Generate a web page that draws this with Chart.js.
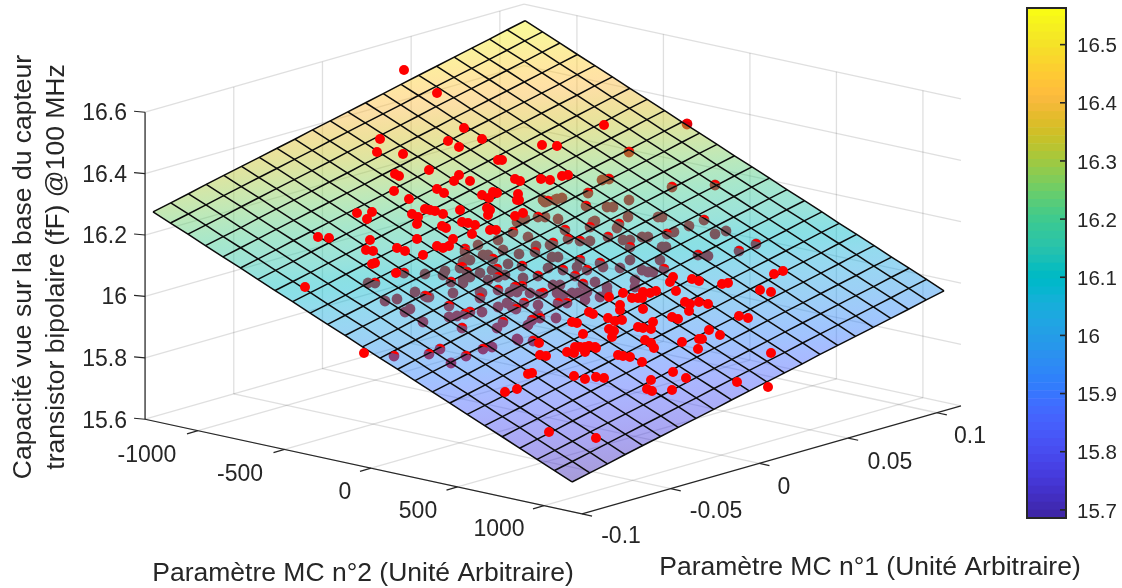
<!DOCTYPE html>
<html><head><meta charset="utf-8">
<style>html,body{margin:0;padding:0;background:#fff;overflow:hidden}canvas{position:absolute;left:0;top:0}</style>
<script src="https://cdn.jsdelivr.net/npm/chart.js@4"></script></head>
<body><canvas id="c" width="1122" height="588"></canvas><canvas id="cb" width="1122" height="588"></canvas>
<script>
const mc1Ticks=[-0.1,-0.05,0,0.05,0.1], mc2Ticks=[-1000,-500,0,500,1000], capTicks=[15.6,15.8,16,16.2,16.4,16.6];
const colorbarTicks=[15.7,15.8,15.9,16,16.1,16.2,16.3,16.4,16.5];
const mc1Lim=[-0.1,0.1136], mc2Lim=[-1306,1220], capLim=[15.6,16.6], colorLim=[15.686,16.563];
const mc1Grid=[-0.0962,-0.0862,-0.0762,-0.0662,-0.0563,-0.0463,-0.0363,-0.0263,-0.0163,-0.0063,0.0037,0.0136,0.0236,0.0336,0.0436,0.0536,0.0636,0.0736,0.0835,0.0935,0.1035,0.1135];
const mc2Grid=[-1299,-1198,-1097,-996,-895,-794,-693,-593,-492,-391,-290,-189,-88,13,114,215,316,417,517,618,719,820,921,1022,1123];
const capGrid=[
[16.270,16.246,16.222,16.197,16.173,16.149,16.124,16.100,16.076,16.051,16.027,16.003,15.978,15.954,15.930,15.905,15.881,15.857,15.832,15.808,15.784,15.759,15.735,15.711,15.686],
[16.283,16.259,16.235,16.210,16.186,16.162,16.137,16.113,16.089,16.064,16.040,16.016,15.991,15.967,15.943,15.918,15.894,15.870,15.845,15.821,15.797,15.772,15.748,15.724,15.699],
[16.296,16.272,16.248,16.223,16.199,16.175,16.150,16.126,16.102,16.077,16.053,16.029,16.004,15.980,15.956,15.931,15.907,15.883,15.858,15.834,15.810,15.785,15.761,15.737,15.712],
[16.310,16.286,16.262,16.237,16.213,16.189,16.164,16.140,16.116,16.091,16.067,16.043,16.018,15.994,15.970,15.945,15.921,15.897,15.872,15.848,15.824,15.799,15.775,15.751,15.726],
[16.323,16.299,16.275,16.250,16.226,16.202,16.177,16.153,16.129,16.104,16.080,16.056,16.031,16.007,15.983,15.958,15.934,15.910,15.885,15.861,15.837,15.812,15.788,15.764,15.739],
[16.336,16.312,16.288,16.263,16.239,16.215,16.190,16.166,16.142,16.117,16.093,16.069,16.044,16.020,15.996,15.971,15.947,15.923,15.898,15.874,15.850,15.825,15.801,15.777,15.752],
[16.349,16.325,16.301,16.276,16.252,16.228,16.203,16.179,16.155,16.130,16.106,16.082,16.057,16.033,16.009,15.984,15.960,15.936,15.911,15.887,15.863,15.838,15.814,15.790,15.765],
[16.362,16.338,16.314,16.289,16.265,16.241,16.216,16.192,16.168,16.143,16.119,16.095,16.070,16.046,16.022,15.997,15.973,15.949,15.924,15.900,15.876,15.851,15.827,15.803,15.778],
[16.375,16.351,16.327,16.302,16.278,16.254,16.229,16.205,16.181,16.156,16.132,16.108,16.083,16.059,16.035,16.010,15.986,15.962,15.937,15.913,15.889,15.864,15.840,15.816,15.791],
[16.389,16.365,16.341,16.316,16.292,16.268,16.243,16.219,16.195,16.170,16.146,16.122,16.097,16.073,16.049,16.024,16.000,15.976,15.951,15.927,15.903,15.878,15.854,15.830,15.805],
[16.402,16.378,16.354,16.329,16.305,16.281,16.256,16.232,16.208,16.183,16.159,16.135,16.110,16.086,16.062,16.037,16.013,15.989,15.964,15.940,15.916,15.891,15.867,15.843,15.818],
[16.415,16.391,16.367,16.342,16.318,16.294,16.269,16.245,16.221,16.196,16.172,16.148,16.123,16.099,16.075,16.050,16.026,16.002,15.977,15.953,15.929,15.904,15.880,15.856,15.831],
[16.428,16.404,16.380,16.355,16.331,16.307,16.282,16.258,16.234,16.209,16.185,16.161,16.136,16.112,16.088,16.063,16.039,16.015,15.990,15.966,15.942,15.917,15.893,15.869,15.844],
[16.441,16.417,16.393,16.368,16.344,16.320,16.295,16.271,16.247,16.222,16.198,16.174,16.149,16.125,16.101,16.076,16.052,16.028,16.003,15.979,15.955,15.930,15.906,15.882,15.857],
[16.455,16.431,16.407,16.382,16.358,16.334,16.309,16.285,16.261,16.236,16.212,16.188,16.163,16.139,16.115,16.090,16.066,16.042,16.017,15.993,15.969,15.944,15.920,15.896,15.871],
[16.468,16.444,16.420,16.395,16.371,16.347,16.322,16.298,16.274,16.249,16.225,16.201,16.176,16.152,16.128,16.103,16.079,16.055,16.030,16.006,15.982,15.957,15.933,15.909,15.884],
[16.481,16.457,16.433,16.408,16.384,16.360,16.335,16.311,16.287,16.262,16.238,16.214,16.189,16.165,16.141,16.116,16.092,16.068,16.043,16.019,15.995,15.970,15.946,15.922,15.897],
[16.494,16.470,16.446,16.421,16.397,16.373,16.348,16.324,16.300,16.275,16.251,16.227,16.202,16.178,16.154,16.129,16.105,16.081,16.056,16.032,16.008,15.983,15.959,15.935,15.910],
[16.507,16.483,16.459,16.434,16.410,16.386,16.361,16.337,16.313,16.288,16.264,16.240,16.215,16.191,16.167,16.142,16.118,16.094,16.069,16.045,16.021,15.996,15.972,15.948,15.923],
[16.520,16.496,16.472,16.447,16.423,16.399,16.374,16.350,16.326,16.301,16.277,16.253,16.228,16.204,16.180,16.155,16.131,16.107,16.082,16.058,16.034,16.009,15.985,15.961,15.936],
[16.534,16.510,16.486,16.461,16.437,16.413,16.388,16.364,16.340,16.315,16.291,16.267,16.242,16.218,16.194,16.169,16.145,16.121,16.096,16.072,16.048,16.023,15.999,15.975,15.950],
[16.547,16.523,16.499,16.474,16.450,16.426,16.401,16.377,16.353,16.328,16.304,16.280,16.255,16.231,16.207,16.182,16.158,16.134,16.109,16.085,16.061,16.036,16.012,15.988,15.963]];
const parula=[[.2422,.1504,.6603],[.2504,.1650,.7076],[.2578,.1818,.7511],[.2647,.1978,.7952],[.2706,.2147,.8364],[.2751,.2342,.8710],[.2783,.2559,.8991],[.2803,.2782,.9221],[.2813,.3006,.9414],[.2810,.3228,.9579],[.2795,.3447,.9717],[.2760,.3667,.9829],[.2699,.3892,.9906],[.2602,.4123,.9952],[.2440,.4358,.9988],[.2206,.4603,.9973],[.1963,.4847,.9892],[.1834,.5074,.9798],[.1786,.5289,.9682],[.1764,.5499,.9520],[.1687,.5703,.9359],[.1540,.5902,.9218],[.1460,.6091,.9079],[.1380,.6276,.8973],[.1248,.6459,.8883],[.1113,.6635,.8763],[.0952,.6798,.8598],[.0689,.6948,.8394],[.0297,.7082,.8163],[.0036,.7203,.7917],[.0067,.7312,.7660],[.0433,.7411,.7394],[.0964,.7500,.7120],[.1408,.7584,.6842],[.1717,.7670,.6554],[.1938,.7758,.6251],[.2161,.7843,.5923],[.2470,.7918,.5567],[.2906,.7973,.5188],[.3406,.8008,.4789],[.3909,.8029,.4354],[.4456,.8024,.3909],[.5044,.7993,.3480],[.5616,.7942,.3045],[.6174,.7876,.2612],[.6720,.7793,.2227],[.7242,.7698,.1910],[.7738,.7598,.1646],[.8203,.7498,.1535],[.8634,.7406,.1596],[.9035,.7330,.1774],[.9393,.7288,.2100],[.9728,.7298,.2394],[.9956,.7434,.2371],[.9970,.7659,.2199],[.9952,.7893,.2028],[.9892,.8136,.1885],[.9786,.8386,.1766],[.9676,.8639,.1643],[.9610,.8890,.1537],[.9597,.9135,.1423],[.9628,.9373,.1265],[.9691,.9606,.1064],[.9769,.9839,.0805]];
const rgb=c=>`rgb(${Math.round(c[0]*255)},${Math.round(c[1]*255)},${Math.round(c[2]*255)})`;
const abovePts=[[404,70],[437,93],[464,128],[380,139],[448,141],[459,147],[482,139],[377,152],[403,154],[429,170],[395,174],[399,176],[459,175],[454,181],[470,181],[394,191],[437,189],[444,193],[409,199],[482,195],[604,125],[542,145],[557,146],[498,160],[502,160],[515,179],[520,181],[541,179],[550,180],[562,176],[568,175],[493,192],[497,193],[489,198],[518,194],[517,200],[519,200],[487,208],[490,210],[488,215],[523,213],[515,216],[357,213],[372,212],[367,219],[412,214],[418,217],[417,224],[425,209],[430,210],[435,211],[443,214],[460,210],[442,226],[446,228],[462,222],[468,223],[475,225],[472,234],[490,230],[496,230],[318,237],[329,238],[370,240],[366,250],[373,251],[417,239],[397,248],[405,251],[437,246],[443,248],[449,246],[453,239],[423,255],[372,264],[375,263],[396,273],[305,287],[364,353],[783,271],[774,274],[673,277],[670,282],[692,279],[699,281],[722,284],[728,283],[676,291],[760,290],[771,292],[643,292],[650,293],[656,291],[642,298],[685,302],[690,304],[699,302],[708,304],[689,311],[643,309],[739,316],[748,318],[672,317],[678,319],[653,322],[643,328],[651,329],[709,330],[720,335],[699,339],[702,339],[645,340],[651,343],[682,342],[654,348],[698,349],[771,353],[567,352],[574,353],[580,347],[585,347],[589,346],[595,347],[585,352],[540,355],[546,356],[539,343],[618,355],[623,356],[630,357],[642,362],[528,374],[532,373],[574,376],[585,379],[596,377],[604,378],[673,372],[651,380],[686,378],[737,382],[768,387],[647,389],[652,391],[672,390],[505,392],[517,389],[549,432],[596,438],[609,297],[623,293],[632,298],[638,298],[620,305],[620,310],[589,312],[593,314],[608,318],[615,321],[622,320],[572,322],[577,323],[609,329],[614,331],[612,337],[583,334],[638,327],[575,347],[596,348]];
const straddlingPts=[[687,124],[629,152],[609,179],[672,187],[715,185],[588,193],[548,201],[586,206],[538,217],[704,220],[667,234],[698,255],[739,251],[756,244],[664,269],[404,273],[375,283],[460,268],[465,252],[451,282],[427,297],[513,232],[619,224],[590,227],[565,230],[608,237],[568,239],[580,241],[553,243],[535,252],[630,247],[465,249],[493,259],[580,260],[522,266],[563,270],[497,269],[600,263],[587,270],[462,267],[467,272],[538,276],[498,277],[575,276],[583,284],[522,286],[515,287],[498,290],[543,293],[480,298],[470,312],[465,314],[516,309],[524,303],[540,294],[558,303],[567,303],[540,318],[532,320],[503,322],[462,328],[533,341],[483,349],[466,356],[394,356],[429,354],[440,349],[425,296],[449,306]];
const belowPts=[[602,180],[543,200],[557,199],[562,198],[629,200],[607,207],[613,207],[525,219],[545,217],[558,219],[595,221],[628,217],[658,217],[662,217],[689,226],[726,231],[715,234],[642,237],[648,237],[674,232],[662,247],[666,247],[708,256],[660,260],[642,270],[648,272],[653,272],[368,283],[425,274],[445,271],[443,275],[463,262],[463,280],[415,292],[453,293],[385,301],[397,299],[405,312],[410,309],[423,322],[429,297],[449,317],[457,316],[451,363],[517,339],[492,347],[480,292],[517,292],[482,312],[498,307],[507,303],[512,307],[538,305],[585,300],[557,293],[578,293],[607,292],[600,297],[556,318],[528,325],[497,328],[538,315],[545,202],[555,200],[593,222],[517,222],[617,228],[528,237],[498,240],[478,245],[623,240],[630,240],[590,241],[536,246],[550,245],[503,250],[483,255],[488,255],[519,254],[552,257],[558,257],[630,260],[470,260],[508,264],[577,267],[548,268],[603,267],[620,268],[492,270],[480,273],[523,278],[470,277],[463,283],[635,280],[488,280],[505,275],[595,282],[607,287],[635,287],[553,285],[560,285],[482,293],[510,292],[563,295],[587,292],[530,293],[572,293],[518,340]];

const view=(m1,m2,z)=>[548.4+1774*m1+0.173*m2, 417.6-506*m1+0.0375*m2-307*(z-15.6)];
const INK='#262626', GRID='rgba(38,38,38,0.15)', FONT='"Liberation Sans", Arial, sans-serif';
const sliver=(()=>{const r=5,c=document.createElement('canvas');c.width=c.height=12;const g=c.getContext('2d');g.translate(6,6);g.rotate(0.25);g.fillStyle='#f00';g.beginPath();g.arc(0,0,r,Math.PI+0.5,-0.5);g.closePath();g.fill();return c;})();
const toXY=a=>a.map(p=>({x:p[0],y:p[1]}));
const wallPlugin={id:'walls',beforeDatasetsDraw(ch){
  const {ctx,scales:{x,y}}=ch; const S=p=>[x.getPixelForValue(p[0]),y.getPixelForValue(p[1])];
  const line=(a,b,col,w)=>{ctx.strokeStyle=col;ctx.lineWidth=w;ctx.beginPath();ctx.moveTo(...S(a));ctx.lineTo(...S(b));ctx.stroke();};
  const [a0,a1]=mc1Lim,[b0,b1]=mc2Lim,[z0,z1]=capLim;
  for(const t of mc1Ticks){line(view(t,b0,z0),view(t,b1,z0),GRID,1.3);line(view(t,b0,z0),view(t,b0,z1),GRID,1.3);}
  for(const t of mc2Ticks){line(view(a0,t,z0),view(a1,t,z0),GRID,1.3);line(view(a1,t,z0),view(a1,t,z1),GRID,1.3);}
  for(const t of capTicks){line(view(a0,b0,t),view(a1,b0,t),GRID,1.3);line(view(a1,b0,t),view(a1,b1,t),GRID,1.3);}
  line(view(a0,b0,z0),view(a0,b1,z0),INK,1.2);line(view(a0,b1,z0),view(a1,b1,z0),INK,1.2);line(view(a0,b0,z0),view(a0,b0,z1),INK,1.2);
  for(const t of capTicks){const p=S(view(a0,b0,t));ctx.strokeStyle=INK;ctx.lineWidth=1.2;ctx.beginPath();ctx.moveTo(...p);ctx.lineTo(p[0]-11,p[1]-1);ctx.stroke();}
  for(const t of mc2Ticks){const p=S(view(a0,t,z0));ctx.beginPath();ctx.moveTo(...p);ctx.lineTo(p[0]-11,p[1]+3.2);ctx.stroke();}
  for(const t of mc1Ticks){const p=S(view(t,b1,z0));ctx.beginPath();ctx.moveTo(...p);ctx.lineTo(p[0]+10,p[1]+2.2);ctx.stroke();}
  ctx.fillStyle=INK;ctx.textBaseline='middle';ctx.font='23px '+FONT;
  ctx.textAlign='right';
  capTicks.forEach((t,i)=>ctx.fillText(String(t),127,[422,360,298,237,176,114][i]));
  ctx.textAlign='center';
  mc2Ticks.forEach((t,i)=>{ctx.fillText(String(t),[147,240,345,418,499][i],[456,475,493,512,530][i]);});
  mc1Ticks.forEach((t,i)=>{ctx.fillText(String(t),[621,716,784,890,970][i],[537,512,488,463,437][i]);});
  ctx.font='26.5px '+FONT;
  ctx.fillText('Paramètre MC n°2 (Unité Arbitraire)',363,574);
  ctx.fillText('Paramètre MC n°1 (Unité Arbitraire)',870,568);
  ctx.save();ctx.translate(24,267);ctx.rotate(-Math.PI/2);ctx.fillText('Capacité vue sur la base du capteur',0,0);ctx.restore();
  ctx.save();ctx.translate(57,267);ctx.rotate(-Math.PI/2);ctx.fillText('transistor bipolaire (fF) @100 MHz',0,0);ctx.restore();
}};
const surfacePlugin={id:'surface',afterDatasetDraw(ch,args){
  if(ch.data.datasets[args.index].label!=='below')return;
  const {ctx,scales:{x,y}}=ch; const S=(i,j)=>{const p=view(mc1Grid[i],mc2Grid[j],capGrid[i][j]);return [x.getPixelForValue(p[0]),y.getPixelForValue(p[1])];};
  const I=mc1Grid.length-1,J=mc2Grid.length-1;
  const A=S(0,0),B=S(I,0),C=S(0,J),zA=capGrid[0][0],zB=capGrid[I][0],zC=capGrid[0][J];
  const ux=B[0]-A[0],uy=B[1]-A[1],vx=C[0]-A[0],vy=C[1]-A[1],dz1=zB-zA,dz2=zC-zA,det=ux*vy-uy*vx;
  const gx=(dz1*vy-dz2*uy)/det,gy=(ux*dz2-vx*dz1)/det,g2=gx*gx+gy*gy;
  const pt=z=>[A[0]+gx*(z-zA)/g2,A[1]+gy*(z-zA)/g2];
  const gr=ctx.createLinearGradient(...pt(colorLim[0]),...pt(colorLim[1]));
  parula.forEach((c,k)=>gr.addColorStop(k/(parula.length-1),rgb(c)));
  ctx.save();ctx.globalAlpha=0.46;ctx.fillStyle=gr;ctx.beginPath();
  const pts=[S(0,0),S(I,0),S(I,J),S(0,J)];ctx.moveTo(...pts[0]);pts.slice(1).forEach(p=>ctx.lineTo(...p));ctx.closePath();ctx.fill();ctx.restore();
  ctx.strokeStyle='#0c0c0c';ctx.lineWidth=1.5;
  for(let i=0;i<=I;i++){ctx.beginPath();for(let j=0;j<=J;j++){const p=S(i,j);j?ctx.lineTo(...p):ctx.moveTo(...p);}ctx.stroke();}
  for(let j=0;j<=J;j++){ctx.beginPath();for(let i=0;i<=I;i++){const p=S(i,j);i?ctx.lineTo(...p):ctx.moveTo(...p);}ctx.stroke();}
}};
new Chart(document.getElementById('c'),{type:'scatter',plugins:[wallPlugin,surfacePlugin],
 data:{datasets:[
  {label:'above',data:toXY(abovePts),order:0,pointBackgroundColor:'#f00',pointBorderWidth:0,pointRadius:5},
  {label:'straddling',data:toXY(straddlingPts),order:1,pointStyle:sliver,pointRadius:5},
  {label:'below',data:toXY(belowPts.concat(straddlingPts)),order:2,pointBackgroundColor:'#d8000c',pointBorderWidth:0,pointRadius:5.4}
 ]},
 options:{responsive:false,animation:false,devicePixelRatio:1,layout:{padding:0,autoPadding:false},
  plugins:{legend:{display:false},tooltip:{enabled:false}},
  scales:{x:{type:'linear',display:false,min:0,max:1122},y:{type:'linear',display:false,min:0,max:588,reverse:true}}}});
const cbDatasets=parula.map((c,k)=>({data:[[colorLim[0]+(colorLim[1]-colorLim[0])*k/64,colorLim[0]+(colorLim[1]-colorLim[0])*(k+1)/64]],backgroundColor:rgb(c),barPercentage:1,categoryPercentage:1,grouped:false,borderWidth:0}));
new Chart(document.getElementById('cb'),{type:'bar',
 plugins:[{id:'frame',afterDraw(ch){const {ctx,chartArea:a,scales:{y}}=ch;ctx.strokeStyle=INK;ctx.lineWidth=2;ctx.strokeRect(a.left,a.top,a.right-a.left,a.bottom-a.top);
   ctx.lineWidth=1.6;for(const t of colorbarTicks){const p=y.getPixelForValue(t);ctx.beginPath();ctx.moveTo(a.right-6,p);ctx.lineTo(a.right,p);ctx.stroke();}}}],
 data:{labels:['c'],datasets:cbDatasets},
 options:{responsive:false,animation:false,devicePixelRatio:1,layout:{padding:{left:1027,top:8,bottom:70,right:0},autoPadding:false},
  plugins:{legend:{display:false},tooltip:{enabled:false}},
  scales:{x:{display:false,grid:{display:false}},
   y:{position:'right',min:colorLim[0],max:colorLim[1],afterFit(s){s.width=56;s.paddingTop=0;s.paddingBottom=0;},afterBuildTicks(s){s.ticks=colorbarTicks.map(v=>({value:v}));},
    grid:{display:false,drawTicks:false},border:{display:false},ticks:{padding:11,labelOffset:2,color:INK,font:{family:'"Liberation Sans", Arial, sans-serif',size:20.5},callback:v=>String(v)}}}}});
</script></body></html>
